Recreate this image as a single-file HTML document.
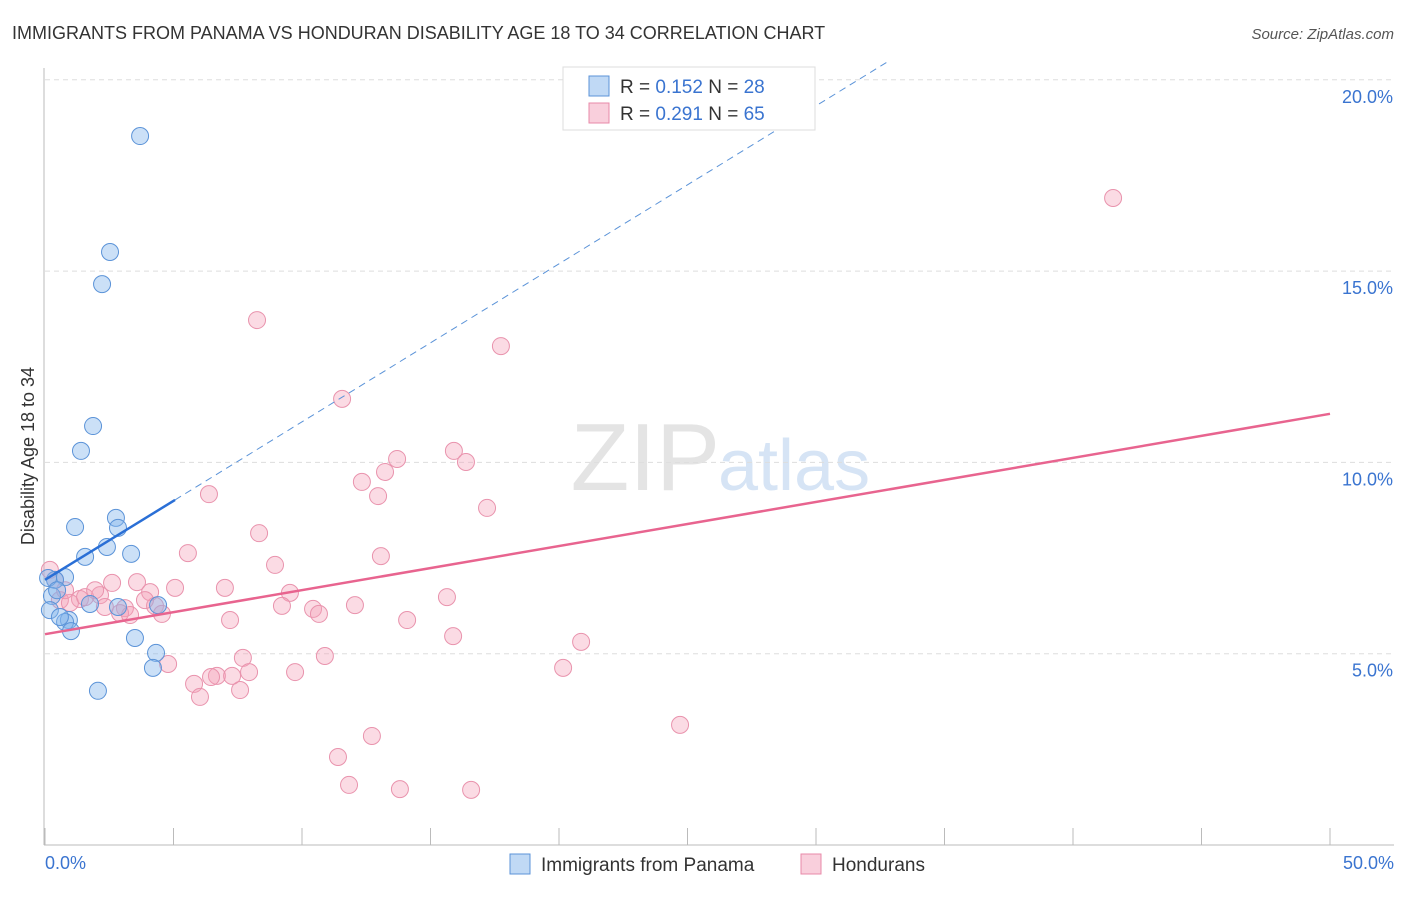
<!DOCTYPE html>
<html><head><meta charset="utf-8"><style>
body{margin:0;background:#fff;font-family:"Liberation Sans",sans-serif}
svg text{font-family:"Liberation Sans",sans-serif}
</style></head><body>
<svg id="c" width="1406" height="892">
<text x="12" y="39" font-size="18" fill="#333">IMMIGRANTS FROM PANAMA VS HONDURAN DISABILITY AGE 18 TO 34 CORRELATION CHART</text>
<text x="1394" y="39" font-size="15" fill="#555" text-anchor="end" font-style="italic">Source: ZipAtlas.com</text>
<text x="720" y="490" font-size="96" fill="#e4e4e4" text-anchor="end" font-family="Liberation Serif">ZIP</text>
<text x="718" y="490" font-size="72" fill="#d6e4f5">atlas</text>
<g id="grid"></g>
<g id="marks"></g>
<text transform="translate(34,456) rotate(-90)" font-size="18" fill="#333" text-anchor="middle">Disability Age 18 to 34</text>
<text x="45" y="869" font-size="18" fill="#3a74d0">0.0%</text>
<text x="1394" y="869" font-size="18" fill="#3a74d0" text-anchor="end">50.0%</text>
<g>
<rect x="563" y="67" width="252" height="63" fill="#fff" stroke="#ddd"/>
<rect x="589" y="76" width="20" height="20" fill="rgba(130,180,235,0.5)" stroke="#5b93d8"/>
<text x="620" y="93" font-size="19" fill="#333">R = <tspan fill="#3a74d0">0.152</tspan>   N = <tspan fill="#3a74d0">28</tspan></text>
<rect x="589" y="103" width="20" height="20" fill="rgba(244,160,185,0.5)" stroke="#e88aa8"/>
<text x="620" y="120" font-size="19" fill="#333">R = <tspan fill="#3a74d0">0.291</tspan>   N = <tspan fill="#3a74d0">65</tspan></text>
</g>
<g>
<rect x="510" y="854" width="20" height="20" fill="rgba(130,180,235,0.5)" stroke="#5b93d8"/>
<text x="541" y="871" font-size="19" fill="#333">Immigrants from Panama</text>
<rect x="801" y="854" width="20" height="20" fill="rgba(244,160,185,0.5)" stroke="#e88aa8"/>
<text x="832" y="871" font-size="19" fill="#333">Hondurans</text>
</g>
</svg>
<script>
const yTicks=[5,10,15,20];
const xTicks=[0,5,10,15,20,25,30,35,40,45,50];
const blueX=[3.70,2.53,2.22,1.87,1.40,1.17,2.76,2.84,2.41,3.35,1.56,0.78,0.39,0.27,0.19,2.84,1.75,4.40,0.93,0.78,1.01,3.50,4.32,4.20,2.06,0.12,0.47,0.58];
const blueY=[18.53,15.50,14.66,10.95,10.30,8.31,8.55,8.29,7.79,7.61,7.53,7.00,6.93,6.51,6.14,6.22,6.30,6.27,5.88,5.83,5.59,5.41,5.02,4.63,4.03,6.98,6.66,5.96];
const pinkX=[41.56,8.25,17.74,11.56,15.91,13.70,16.38,13.23,12.33,12.96,6.38,17.20,8.33,5.56,13.07,8.95,2.61,3.58,5.06,4.09,7.00,9.53,15.64,2.14,1.36,3.11,2.33,4.28,4.55,7.20,9.22,10.43,10.66,12.06,14.09,2.92,15.88,20.86,10.89,7.70,7.94,9.73,20.16,4.79,6.69,6.46,5.80,7.59,6.03,24.71,12.72,11.40,11.83,13.81,16.58,0.19,0.39,0.58,0.97,1.56,1.95,0.78,3.31,3.89,7.28];
const pinkY=[16.91,13.72,13.04,11.66,10.30,10.09,10.01,9.75,9.49,9.12,9.17,8.81,8.15,7.63,7.55,7.32,6.85,6.87,6.72,6.61,6.72,6.59,6.48,6.53,6.43,6.19,6.22,6.25,6.04,5.88,6.25,6.17,6.04,6.27,5.88,6.06,5.46,5.31,4.94,4.89,4.52,4.52,4.63,4.73,4.42,4.39,4.21,4.05,3.87,3.14,2.85,2.30,1.57,1.46,1.44,7.19,6.93,6.40,6.33,6.48,6.66,6.66,6.01,6.40,4.42];
const blueTrend=[6.93,0.413];
const pinkTrend=[5.51,0.1152];
const NS="http://www.w3.org/2000/svg";
const sx=v=>45+v*25.7, sy=v=>845-v*38.26;
function mk(t,a,p){const e=document.createElementNS(NS,t);for(const k in a)e.setAttribute(k,a[k]);p.appendChild(e);return e;}
const g=document.getElementById('grid'), m=document.getElementById('marks');
yTicks.forEach(v=>{
 const l=mk('line',{x1:45,x2:1394,y1:sy(v),y2:sy(v),stroke:'#ddd','stroke-dasharray':'5,4'},g);
 
 
 const t=mk('text',{x:1393,y:sy(v)+23,'font-size':18,fill:'#3a74d0','text-anchor':'end'},g);t.textContent=v.toFixed(1)+'%';
 
 
});
const ax=mk('line',{x1:44,x2:44,y1:68,y2:845,stroke:'#bbb'},g);


const bx=mk('line',{x1:44,x2:1394,y1:845,y2:845,stroke:'#bbb'},g);


xTicks.forEach(v=>{
 const l=mk('line',{x1:sx(v),x2:sx(v),y1:828,y2:845,stroke:'#bbb'},g);
 
 
});
function pts(X,Y,fill,stroke,name){X.forEach((x,i)=>{
 const c=mk('circle',{cx:sx(x),cy:sy(Y[i]),r:8.5,fill:fill,stroke:stroke,'stroke-width':1},m);
 
 
});}
pts(pinkX,pinkY,'rgba(244,160,185,0.38)','#e993ad','honduran-point');
pts(blueX,blueY,'rgba(130,180,235,0.42)','#5b93d8','panama-point');
let l=mk('line',{x1:sx(0),y1:sy(pinkTrend[0]),x2:sx(50),y2:sy(pinkTrend[0]+pinkTrend[1]*50),stroke:'#e8648f','stroke-width':2.5},m);


l=mk('line',{x1:sx(5.06),y1:sy(blueTrend[0]+blueTrend[1]*5.06),x2:sx(32.8),y2:sy(blueTrend[0]+blueTrend[1]*32.8),stroke:'#5b93d8','stroke-width':1,'stroke-dasharray':'7,5'},m);


l=mk('line',{x1:sx(0),y1:sy(blueTrend[0]),x2:sx(5.06),y2:sy(blueTrend[0]+blueTrend[1]*5.06),stroke:'#2a6fd6','stroke-width':2.5},m);


</script>
</body></html>
